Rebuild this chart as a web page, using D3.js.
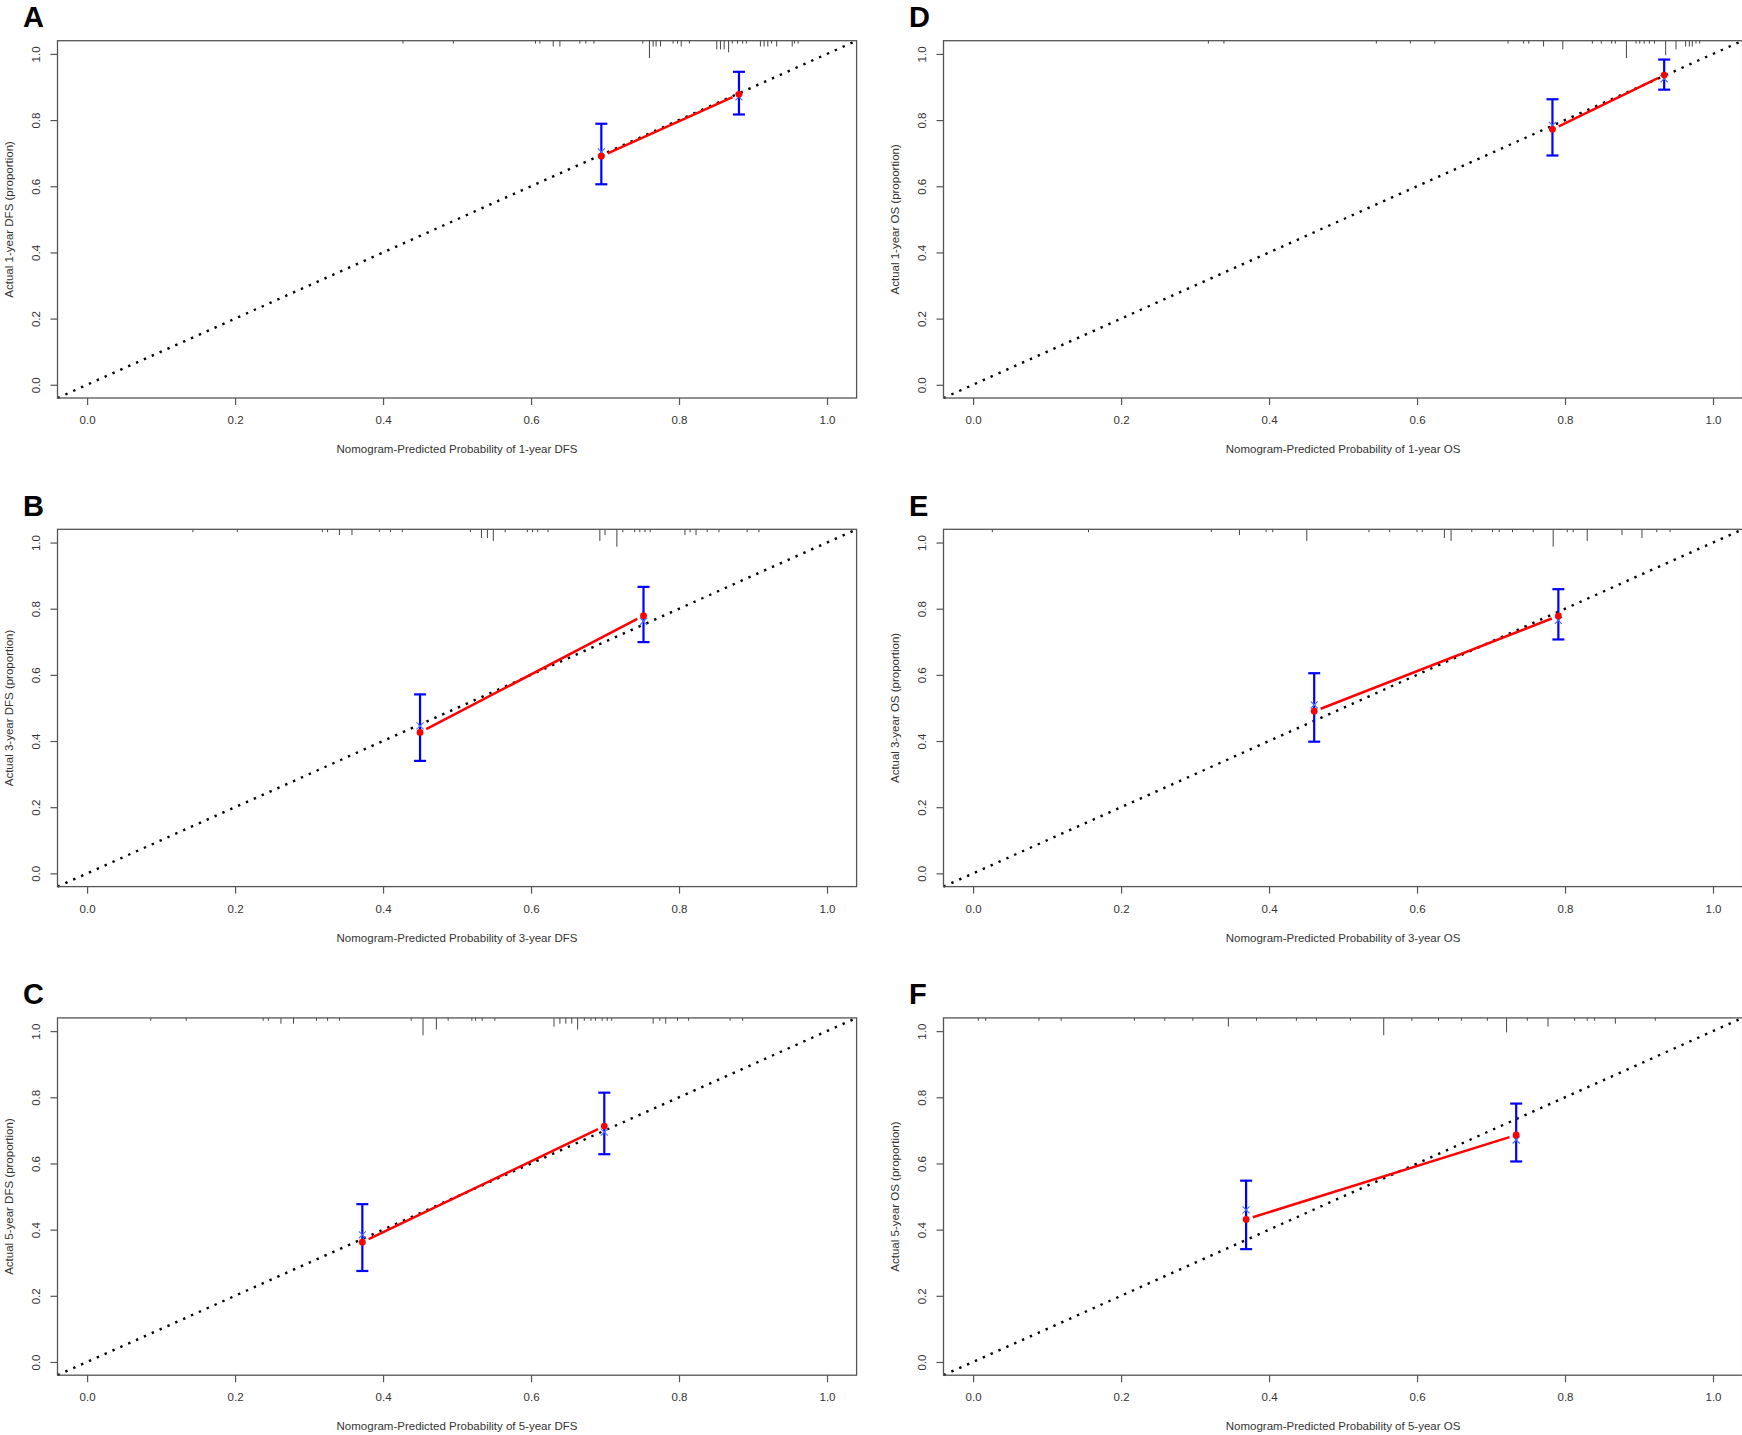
<!DOCTYPE html>
<html lang="en">
<head>
<meta charset="UTF-8">
<title>calibration</title>
<style>
    body{ margin:0; background:#fff; }
    svg{ display:block; }
    text{ font-family:"Liberation Sans", Arial, sans-serif; }
</style>
</head>
<body>
<svg width="1742" height="1435"></svg>
<script src="https://cdnjs.cloudflare.com/ajax/libs/d3/7.8.5/d3.min.js"></script>
<script>
// panel order: A B C (left column), D E F (right column)
var letters = ["A", "B", "C", "D", "E", "F"];
var xTitles = [
    "Nomogram-Predicted Probability of 1-year DFS",
    "Nomogram-Predicted Probability of 3-year DFS",
    "Nomogram-Predicted Probability of 5-year DFS",
    "Nomogram-Predicted Probability of 1-year OS",
    "Nomogram-Predicted Probability of 3-year OS",
    "Nomogram-Predicted Probability of 5-year OS"
];
var yTitles = [
    "Actual 1-year DFS (proportion)",
    "Actual 3-year DFS (proportion)",
    "Actual 5-year DFS (proportion)",
    "Actual 1-year OS (proportion)",
    "Actual 3-year OS (proportion)",
    "Actual 5-year OS (proportion)"
];
var tickValues = [0, 0.2, 0.4, 0.6, 0.8, 1.0];

// two groups per panel: mean predicted, observed, CI, bias-corrected
var predicted = [[0.695, 0.881], [0.450, 0.752], [0.372, 0.699], [0.783, 0.934], [0.461, 0.791], [0.369, 0.734]];
var observed  = [[0.691, 0.878], [0.426, 0.779], [0.362, 0.713], [0.772, 0.936], [0.490, 0.778], [0.431, 0.686]];
var lower     = [[0.606, 0.817], [0.340, 0.699], [0.275, 0.628], [0.693, 0.892], [0.398, 0.707], [0.341, 0.606]];
var upper     = [[0.789, 0.946], [0.541, 0.866], [0.477, 0.814], [0.863, 0.983], [0.605, 0.859], [0.548, 0.781]];
var corrected = [[0.704, 0.870], [0.446, 0.762], [0.384, 0.695], [0.784, 0.925], [0.509, 0.765], [0.460, 0.671]];

// distribution of predictions shown at the top of each plot: [value, count]
var rugA = [[0.427,1],[0.495,1],[0.606,1],[0.612,1],[0.630,2],[0.639,2],[0.666,1],[0.674,1],[0.685,1],
    [0.751,1],[0.760,6],[0.765,2],[0.769,2],[0.775,2],[0.792,1],[0.798,1],[0.803,2],[0.814,1],
    [0.851,3],[0.856,3],[0.861,3],[0.867,4],[0.872,1],[0.879,1],[0.886,1],[0.891,1],
    [0.910,2],[0.915,2],[0.920,2],[0.925,1],[0.932,2],[0.953,2],[0.956,1],[0.961,1]];
var rugB = [[0.143,1],[0.203,1],[0.318,1],[0.325,1],[0.341,2],[0.358,2],[0.395,1],[0.410,1],[0.426,1],
    [0.518,1],[0.533,3],[0.541,3],[0.549,4],[0.565,1],[0.595,1],[0.602,1],[0.609,1],[0.623,1],
    [0.693,4],[0.700,2],[0.716,6],[0.724,1],[0.740,1],[0.747,1],[0.754,1],[0.761,1],
    [0.808,2],[0.815,1],[0.823,2],[0.838,1],[0.854,1],[0.892,1],[0.908,1]];
var rugC = [[0.086,1],[0.134,1],[0.238,1],[0.245,1],[0.262,2],[0.279,2],[0.310,1],[0.325,1],[0.341,1],
    [0.438,1],[0.454,6],[0.472,4],[0.488,1],[0.520,1],[0.525,1],[0.534,1],[0.551,1],
    [0.631,3],[0.639,2],[0.647,2],[0.655,2],[0.663,4],[0.672,1],[0.681,1],[0.687,1],[0.696,1],[0.703,1],[0.709,1],
    [0.765,2],[0.774,1],[0.782,2],[0.798,1],[0.813,1],[0.869,1],[0.886,1]];
var rugD = [[0.318,1],[0.339,1],[0.545,1],[0.591,1],[0.624,1],[0.723,1],[0.744,1],[0.751,1],[0.771,2],[0.797,3],
    [0.837,1],[0.849,1],[0.863,1],[0.868,1],[0.883,6],[0.896,1],[0.901,1],[0.907,1],[0.914,1],[0.921,1],
    [0.936,5],[0.950,3],[0.963,2],[0.968,2],[0.972,2],[0.977,1],[0.982,1]];
var rugE = [[0.026,1],[0.156,1],[0.322,1],[0.360,2],[0.396,1],[0.405,1],[0.451,4],[0.535,1],[0.563,1],
    [0.600,1],[0.607,1],[0.637,3],[0.646,4],[0.674,1],[0.702,1],[0.711,1],[0.729,1],[0.757,1],
    [0.784,6],[0.803,1],[0.811,1],[0.830,4],[0.877,2],[0.904,3],[0.924,1],[0.942,1]];
var rugF = [[0.007,1],[0.017,1],[0.089,1],[0.119,1],[0.218,1],[0.259,1],[0.297,1],[0.345,3],[0.383,1],
    [0.437,1],[0.464,1],[0.510,1],[0.555,6],[0.593,1],[0.629,1],[0.660,1],[0.695,1],[0.721,5],
    [0.749,1],[0.777,3],[0.813,1],[0.830,1],[0.840,1],[0.868,2],[0.922,1]];
var rugs = [rugA, rugB, rugC, rugD, rugE, rugF];

var svg = d3.select("svg");
var colStep = 886, rowStep = 488.6;
var box = {left: 57.5, right: 856.6, top: 40.7, bottom: 398};
var fmt = d3.format(".1f");

letters.forEach(function(letter, i){
    var col = Math.floor(i / 3), row = i % 3;
    var g = svg.append("g").attr("transform", "translate(" + (col * colStep) + "," + (row * rowStep) + ")");

    var x = d3.scaleLinear().domain([-0.04, 1.04]).range([box.left, box.right]);
    var y = d3.scaleLinear().domain([-0.04, 1.04]).range([box.bottom, box.top]);
    var rugLen = d3.scaleLinear().domain([0, 1]).range([0, 2.9]);

    // panel letter
    g.append("text").attr("x", 23).attr("y", 27).attr("font-size", 29).attr("font-weight", "bold")
        .attr("fill", "#000").text(letter);

    // axes
    var xAxis = g.append("g").attr("transform", "translate(0," + box.bottom + ")")
        .call(d3.axisBottom(x).tickValues(tickValues).tickFormat(fmt).tickSize(7).tickPadding(11));
    var yAxis = g.append("g").attr("transform", "translate(" + box.left + ",0)")
        .call(d3.axisLeft(y).tickValues(tickValues).tickFormat(fmt).tickSize(7));
    [xAxis, yAxis].forEach(function(a){
        a.select(".domain").remove();
        a.selectAll("line").attr("stroke", "#555").attr("stroke-width", 1.2);
        a.selectAll("text").attr("fill", "#333").attr("font-size", 11.5)
            .attr("font-family", "'Liberation Sans', Arial, sans-serif");
    });
    yAxis.selectAll("text").attr("x", null).attr("dy", null)
        .attr("text-anchor", "middle").attr("transform", "translate(-17.5,0) rotate(-90)");

    // axis titles
    g.append("text").attr("x", (box.left + box.right) / 2).attr("y", 453).attr("text-anchor", "middle")
        .attr("font-size", 11.5).attr("fill", "#333").text(xTitles[i]);
    g.append("text").attr("transform", "translate(12.5," + ((box.top + box.bottom) / 2) + ") rotate(-90)")
        .attr("text-anchor", "middle").attr("font-size", 11.5).attr("fill", "#333").text(yTitles[i]);

    // rug of predictions hanging from the top border
    g.append("g").selectAll("line").data(rugs[i]).enter().append("line")
        .attr("x1", function(d){ return x(d[0]); }).attr("x2", function(d){ return x(d[0]); })
        .attr("y1", box.top).attr("y2", function(d){ return box.top + rugLen(d[1]); })
        .attr("stroke", "#444").attr("stroke-width", 1);

    // ideal line
    g.append("line").attr("x1", x(-0.04)).attr("y1", y(-0.04)).attr("x2", x(1.04)).attr("y2", y(1.04))
        .attr("stroke", "#000").attr("stroke-width", 2.4).attr("stroke-dasharray", "2.4,6.2")
        .attr("stroke-linecap", "butt");

    // red line between observed points, broken near the points (type = "b")
    var p = predicted[i].map(function(v, k){ return [x(v), y(observed[i][k])]; });
    var dx = p[1][0] - p[0][0], dy = p[1][1] - p[0][1], len = Math.sqrt(dx * dx + dy * dy), gap = 7;
    g.append("line")
        .attr("x1", p[0][0] + dx / len * gap).attr("y1", p[0][1] + dy / len * gap)
        .attr("x2", p[1][0] - dx / len * gap).attr("y2", p[1][1] - dy / len * gap)
        .attr("stroke", "#ff0000").attr("stroke-width", 2.5);

    // error bars
    var idx = [0, 1];
    var bars = g.append("g").attr("stroke", "#0000ff");
    bars.selectAll(".bar").data(idx).enter().append("line")
        .attr("x1", function(k){ return x(predicted[i][k]); }).attr("x2", function(k){ return x(predicted[i][k]); })
        .attr("y1", function(k){ return y(lower[i][k]); }).attr("y2", function(k){ return y(upper[i][k]); })
        .attr("stroke-width", 2.2);
    [lower[i], upper[i]].forEach(function(arr){
        bars.append("g").selectAll("line").data(idx).enter().append("line")
            .attr("x1", function(k){ return x(predicted[i][k]) - 6; })
            .attr("x2", function(k){ return x(predicted[i][k]) + 6; })
            .attr("y1", function(k){ return y(arr[k]); }).attr("y2", function(k){ return y(arr[k]); })
            .attr("stroke-width", 2.2);
    });

    // bias-corrected estimates (blue x)
    var cross = d3.symbol().type(d3.symbolX).size(34);
    g.append("g").selectAll("path").data(idx).enter().append("path")
        .attr("d", cross)
        .attr("transform", function(k){ return "translate(" + x(predicted[i][k]) + "," + y(corrected[i][k]) + ")"; })
        .attr("fill", "none").attr("stroke", "#4a6cff").attr("stroke-width", 1.1);

    // observed points
    g.append("g").selectAll("circle").data(idx).enter().append("circle")
        .attr("cx", function(k){ return x(predicted[i][k]); })
        .attr("cy", function(k){ return y(observed[i][k]); })
        .attr("r", 3.4).attr("fill", "#ff0000");

    // plot frame
    g.append("rect").attr("x", box.left).attr("y", box.top)
        .attr("width", box.right - box.left).attr("height", box.bottom - box.top)
        .attr("fill", "none").attr("stroke", "#555").attr("stroke-width", 1.3);
});
</script>
</body>
</html>
